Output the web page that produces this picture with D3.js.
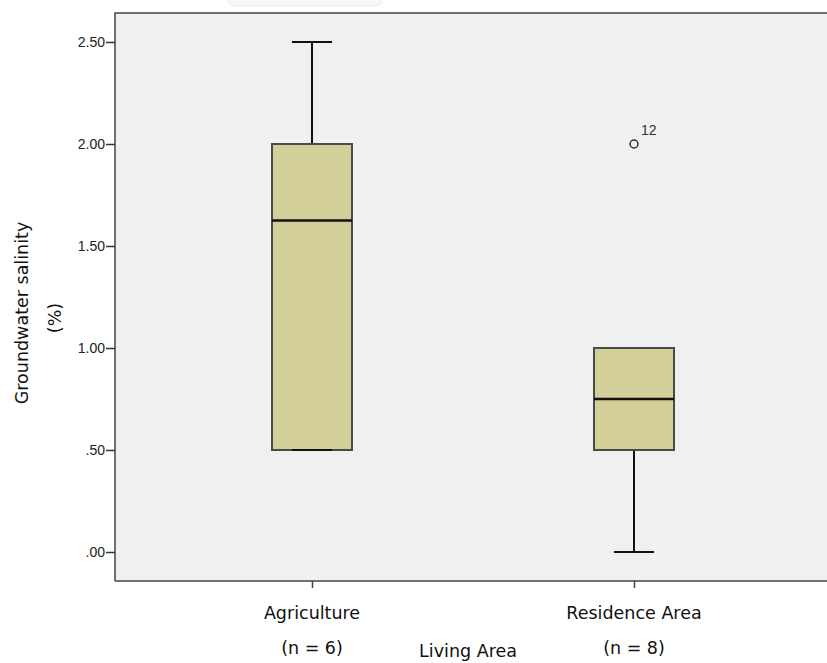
<!DOCTYPE html>
<html>
<head>
<meta charset="utf-8">
<script src="https://cdn.jsdelivr.net/npm/d3@7"></script>
<style>
  body { margin: 0; background: #fff; }
  svg { display: block; }
</style>
</head>
<body>
<div id="chart"></div>
<script>
// Box plot data
const categories = ["Agriculture", "Residence Area"];
const counts = [6, 8];
const whiskerLow = [0.5, 0.0];
const q1 = [0.5, 0.5];
const medians = [1.625, 0.75];
const q3 = [2.0, 1.0];
const whiskerHigh = [2.5, 1.0];
const outliers = [{ cat: "Residence Area", value: 2.0, label: "12" }];
const yTicks = [0, 0.5, 1.0, 1.5, 2.0, 2.5];

const width = 827, height = 663;
const plot = { left: 115, top: 13, right: 840, bottom: 581 };

const svg = d3.select("#chart").append("svg")
    .attr("width", width)
    .attr("height", height);

// Scales
const y = d3.scaleLinear().domain([0, 2.5]).range([552, 42]);
const x = d3.scalePoint().domain(categories).range([312, 634]);

// Plot background
svg.append("rect")
    .attr("x", plot.left).attr("y", plot.top)
    .attr("width", plot.right - plot.left)
    .attr("height", plot.bottom - plot.top)
    .style("fill", "#f0f0f0");

// faint watermark remnant at top
svg.append("rect")
    .attr("x", 228).attr("y", -8).attr("width", 154).attr("height", 14)
    .attr("rx", 6)
    .style("fill", "#f7f7f7").style("stroke", "#f0f0f0").style("stroke-width", 1.5);

// Frame lines (left, top, bottom)
svg.append("path")
    .attr("d", `M${plot.left},${plot.bottom}V${plot.top}H${plot.right}`)
    .style("fill", "none").style("stroke", "#444").style("stroke-width", 1.5);
svg.append("line")
    .attr("x1", plot.left).attr("x2", plot.right)
    .attr("y1", plot.bottom).attr("y2", plot.bottom)
    .style("stroke", "#444").style("stroke-width", 1.5);

// Y axis
const yAxis = d3.axisLeft(y)
    .tickValues(yTicks)
    .tickSize(9)
    .tickPadding(1)
    .tickFormat(d => d3.format(".2f")(d).replace(/^0\./, "."));
const yg = svg.append("g")
    .attr("transform", `translate(${plot.left},0)`)
    .call(yAxis);
yg.select(".domain").remove();
yg.selectAll(".tick line").style("stroke", "#333").style("stroke-width", 1.5);
yg.selectAll(".tick text")
    .style("font-family", "'Liberation Sans', Arial, sans-serif")
    .style("font-size", "14px")
    .style("fill", "#222");

// X axis
const xAxis = d3.axisBottom(x).tickSize(7).tickFormat("");
const xg = svg.append("g")
    .attr("transform", `translate(0,${plot.bottom})`)
    .call(xAxis);
xg.select(".domain").remove();
xg.selectAll(".tick line").style("stroke", "#444").style("stroke-width", 1.5);

const labelFont = "'DejaVu Sans', 'Noto Sans', sans-serif";
const labelSize = "17.5px";
categories.forEach((c, i) => {
    svg.append("text")
        .attr("x", x(c)).attr("y", 619)
        .attr("text-anchor", "middle")
        .style("font-family", labelFont).style("font-size", labelSize).style("fill", "#111")
        .text(c);
    svg.append("text")
        .attr("x", x(c)).attr("y", 654)
        .attr("text-anchor", "middle")
        .style("font-family", labelFont).style("font-size", labelSize).style("fill", "#111")
        .text(`(n = ${counts[i]})`);
});

svg.append("text")
    .attr("x", 468).attr("y", 657)
    .attr("text-anchor", "middle")
    .style("font-family", labelFont).style("font-size", labelSize).style("fill", "#111")
    .text("Living Area");

// Y axis title
svg.append("text")
    .attr("transform", "translate(28,313) rotate(-90)")
    .attr("text-anchor", "middle")
    .style("font-family", labelFont).style("font-size", labelSize).style("fill", "#111")
    .text("Groundwater salinity");
svg.append("text")
    .attr("transform", "translate(61,318) rotate(-90)")
    .attr("text-anchor", "middle")
    .style("font-family", labelFont).style("font-size", labelSize).style("fill", "#111")
    .text("(%)");

// Boxes
const boxW = 80, capW = 40;
const data = categories.map((c, i) => ({
    cat: c, lo: whiskerLow[i], q1: q1[i], med: medians[i], q3: q3[i], hi: whiskerHigh[i]
}));

const g = svg.append("g");
const box = g.selectAll("g.box").data(data).enter().append("g").attr("class", "box");

// whiskers
box.append("line")
    .attr("x1", d => x(d.cat)).attr("x2", d => x(d.cat))
    .attr("y1", d => y(d.hi)).attr("y2", d => y(d.q3))
    .style("stroke", "#111").style("stroke-width", 2);
box.append("line")
    .attr("x1", d => x(d.cat)).attr("x2", d => x(d.cat))
    .attr("y1", d => y(d.q1)).attr("y2", d => y(d.lo))
    .style("stroke", "#111").style("stroke-width", 2);

// upper caps (box drawn over them)
box.append("line")
    .attr("x1", d => x(d.cat) - capW / 2).attr("x2", d => x(d.cat) + capW / 2)
    .attr("y1", d => y(d.hi)).attr("y2", d => y(d.hi))
    .style("stroke", "#111").style("stroke-width", 2);

box.append("rect")
    .attr("x", d => x(d.cat) - boxW / 2)
    .attr("y", d => y(d.q3))
    .attr("width", boxW)
    .attr("height", d => y(d.q1) - y(d.q3))
    .style("fill", "#d3cf98")
    .style("stroke", "#4a4a4a")
    .style("stroke-width", 2);

// lower caps
box.append("line")
    .attr("x1", d => x(d.cat) - capW / 2).attr("x2", d => x(d.cat) + capW / 2)
    .attr("y1", d => y(d.lo)).attr("y2", d => y(d.lo))
    .style("stroke", "#111").style("stroke-width", 2);

// median
box.append("line")
    .attr("x1", d => x(d.cat) - boxW / 2).attr("x2", d => x(d.cat) + boxW / 2)
    .attr("y1", d => y(d.med)).attr("y2", d => y(d.med))
    .style("stroke", "#111").style("stroke-width", 2.5);

// Outliers
g.selectAll("circle.outlier").data(outliers).enter().append("circle")
    .attr("class", "outlier")
    .attr("cx", d => x(d.cat)).attr("cy", d => y(d.value))
    .attr("r", 4)
    .style("fill", "none").style("stroke", "#333").style("stroke-width", 1.5);
g.selectAll("text.outlier-label").data(outliers).enter().append("text")
    .attr("class", "outlier-label")
    .attr("x", d => x(d.cat) + 7).attr("y", d => y(d.value) - 9)
    .style("font-family", "'Liberation Sans', Arial, sans-serif")
    .style("font-size", "14px").style("fill", "#333")
    .text(d => d.label);
</script>
</body>
</html>
